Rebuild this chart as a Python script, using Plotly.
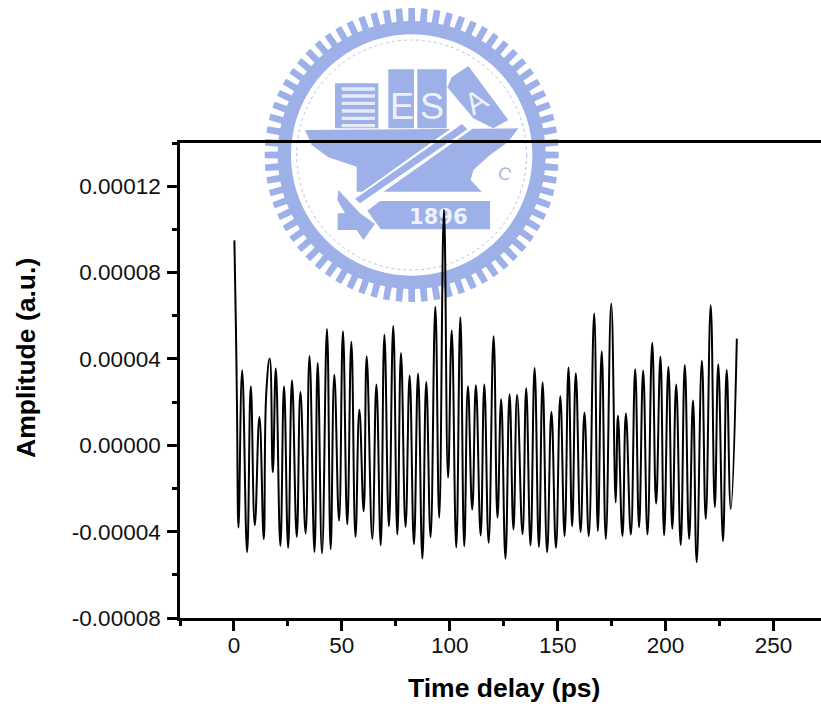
import math
import numpy as np
import plotly.graph_objects as go

# ---- data ----
delay_ps = [0.2,0.9,1.4,2.1,3.8,6.1,7.8,9.65,11.8,13.8,15.0,16.6,18.0,19.4,21.5,23.2,25.1,26.9,29.1,30.8,33.2,35.0,37.3,38.8,40.8,43.1,44.8,46.5,48.7,50.5,52.5,54.4,56.3,58.1,60.1,61.5,64.1,66.0,68.0,69.7,71.8,73.8,75.7,77.4,79.5,81.4,83.4,85.3,87.3,89.1,91.1,93.3,95.1,97.3,99.2,100.9,103.0,104.9,106.7,108.4,110.4,112.1,114.3,116.0,118.0,120.3,122.1,123.8,125.8,127.7,129.5,131.2,133.7,135.4,137.4,139.3,141.3,143.0,145.1,147.1,149.2,151.2,153.2,155.0,156.7,158.4,160.6,162.4,164.4,166.9,168.6,170.4,172.3,174.8,176.9,177.9,180.0,181.6,183.9,185.9,187.7,189.6,191.6,193.8,195.6,197.6,199.3,201.3,203.1,204.9,207.0,208.9,210.9,212.7,214.4,216.8,218.6,220.9,222.8,224.4,226.6,228.3,230.2,233.0]
amplitude_e5 = [9.49,5.5,1.8,-3.81,3.47,-4.95,2.73,-3.70,1.31,-4.34,2.47,4.02,-1.25,3.56,-4.66,2.73,-4.75,3.01,-4.24,2.47,-4.09,4.13,-4.94,3.81,-5.01,5.38,-4.81,3.27,-3.50,5.28,-3.66,4.80,-4.24,1.65,-3.06,4.12,-4.34,2.82,-4.63,5.12,-3.75,5.52,-4.13,4.27,-3.78,3.23,-4.58,3.32,-5.25,2.93,-4.26,6.42,-3.36,10.91,-1.50,5.32,-4.74,5.93,-4.68,2.73,-2.98,2.78,-4.18,2.81,-4.52,5.05,-3.36,2.13,-5.25,2.36,-3.90,2.33,-4.12,2.64,-4.64,3.58,-4.71,2.92,-4.95,1.54,-4.75,2.27,-4.21,3.60,-3.75,3.33,-4.01,1.51,-4.21,6.10,-3.97,4.35,-4.34,6.57,-2.65,1.37,-4.20,1.47,-4.13,3.52,-3.80,3.46,-4.13,4.75,-2.70,4.11,-4.17,3.64,-3.87,2.82,-4.62,3.72,-4.34,2.07,-5.42,3.92,-3.41,6.48,-2.86,3.75,-4.44,3.49,-2.95,4.94]
x_major = [0, 50, 100, 150, 200, 250]
x_labels = ["0", "50", "100", "150", "200", "250"]
x_minor = [-25, 25, 75, 125, 175, 225]
y_major = [-0.00008, -0.00004, 0.0, 0.00004, 0.00008, 0.00012]
y_labels = ["-0.00008", "-0.00004", "0.00000", "0.00004", "0.00008", "0.00012"]
y_minor = [-0.00006, -0.00002, 0.00002, 0.00006, 0.0001, 0.00014]

W, H = 821, 706
L, R, T, B = 180, 821, 143, 618
PW, PH = R - L, B - T
FONT = "Liberation Sans, Arial, sans-serif"
SEAL = "#9DB0E8"


def px(x, y):
    return (x - L) / PW, (B - y) / PH


def z(zx, zy):
    # seal artwork is laid out on a 3x grid anchored at (260, 0)
    return px(260 + zx / 3, zy / 3)


def poly(points, fill, line=None, width=0):
    d = "M" + " L".join("%.5f,%.5f" % z(a, b) for a, b in points) + " Z"
    return dict(type="path", xref="paper", yref="paper", path=d, fillcolor=fill,
                line=dict(color=line or fill, width=width), layer="below")


def circle(r):
    return [(cx + r * math.cos(i * math.pi / 60), cy + r * math.sin(i * math.pi / 60)) for i in range(120)]


shapes = []
cx, cy = 455, 465
# toothed ring
teeth = 72
for i in range(teeth):
    a = 2 * math.pi * i / teeth
    h = 0.026
    pts = [(cx + r * math.cos(a + s), cy + r * math.sin(a + s))
           for r, s in ((395, -h), (441, -h * 0.85), (441, h * 0.85), (395, h))]
    shapes.append(poly(pts, SEAL))
shapes.append(poly(circle(402), SEAL))
shapes.append(poly(circle(362), "white"))
d = "M" + " L".join("%.5f,%.5f" % z(a, b) for a, b in circle(345)) + " Z"
shapes.append(dict(type="path", xref="paper", yref="paper", path=d, fillcolor="rgba(0,0,0,0)",
                   line=dict(color="#B4C2EC", width=1, dash="dot"), layer="below"))
# anvil
shapes.append(poly([(135, 390), (775, 385), (745, 425), (690, 465), (640, 510), (632, 540), (665, 575),
                    (290, 575), (290, 500), (205, 472), (155, 435)], SEAL))
# books
shapes.append(poly([(225, 250), (355, 250), (355, 385), (225, 385)], SEAL))
for yy in (262, 283, 305, 328, 350, 372):
    shapes.append(poly([(245, yy), (345, yy), (345, yy + 10), (245, yy + 10)], "#E6EBFA"))
shapes.append(poly([(385, 208), (462, 208), (462, 385), (385, 385)], SEAL))
shapes.append(poly([(472, 208), (560, 208), (560, 385), (472, 385)], SEAL))
shapes.append(poly([(575, 232), (625, 198), (745, 360), (700, 385), (640, 355), (562, 262)], SEAL))
# handle of the hammer
shapes.append(poly([(612, 358), (640, 385), (305, 622), (272, 600)], "white"))
shapes.append(poly([(606, 372), (622, 388), (300, 610), (285, 597)], SEAL))
# hammer head
shapes.append(poly([(235, 570), (300, 640), (345, 672), (310, 720), (290, 690), (233, 690), (233, 640), (255, 640), (232, 600)], SEAL))
# plate
shapes.append(poly([(360, 603), (690, 603), (690, 688), (362, 688), (322, 632)], SEAL))
# the plate's lettering is a shape label so that the curve passes over it
x0, y0 = z(430, 688)
x1, y1 = z(640, 603)
shapes.append(dict(type="rect", xref="paper", yref="paper", x0=x0, y0=y0, x1=x1, y1=y1, layer="below",
                   fillcolor="rgba(0,0,0,0)", line=dict(width=0),
                   label=dict(text="<b>1896</b>", textposition="middle center",
                              font=dict(family="DejaVu Sans", size=21, color="#EEF1FB"))))

annotations = []
for txt, zx, zy, size, ang, fam in [("E", 425, 318, 36, 0, FONT), ("S", 516, 318, 36, 0, FONT),
                                    ("A", 648, 305, 30, -33, FONT)]:
    ax, ay = z(zx, zy)
    annotations.append(dict(text=txt, x=ax, y=ay, xref="paper", yref="paper",
                            showarrow=False, xanchor="center", yanchor="middle", textangle=ang,
                            font=dict(family=fam, size=size, color="#EEF1FB")))
ax, ay = z(735, 480)
annotations.append(dict(text="C", x=ax, y=ay, xref="paper", yref="paper", showarrow=False, textangle=20,
                        font=dict(family=FONT, size=18, color="#A9B6DA")))

# axis titles placed off-centre as in the reference
for txt, pxx, pyy, ang, size in [("<b>Time delay (ps)</b>", 504, 688, 0, 26.5),
                                 ("<b>Amplitude (a.u.)</b>", 26, 358, -90, 26.5)]:
    ax, ay = px(pxx, pyy)
    annotations.append(dict(text=txt, x=ax, y=ay, xref="paper", yref="paper", showarrow=False,
                            xanchor="center", yanchor="middle", textangle=ang,
                            font=dict(family=FONT, size=size, color="black")))

fig = go.Figure(go.Scatter(
    x=delay_ps,
    y=np.array(amplitude_e5) * 1e-5,
    mode="lines",
    line=dict(color="black", width=2.0, shape="spline", smoothing=1.3),
    hoverinfo="skip",
))

fig.update_xaxes(
    range=[-25, 272], showgrid=False, zeroline=False,
    showline=True, linecolor="black", linewidth=2.6, mirror=True,
    tickmode="array", tickvals=x_major, ticktext=x_labels,
    ticks="outside", ticklen=10, tickwidth=2.6, tickcolor="black",
    ticklabelstandoff=-5,
    tickfont=dict(family=FONT, size=22.5, color="#111111"),
    minor=dict(tickmode="array", tickvals=x_minor, ticks="outside", ticklen=5, tickwidth=2.6, tickcolor="black"),
)
fig.update_yaxes(
    range=[-0.00008, 0.00014], showgrid=False, zeroline=False,
    showline=True, linecolor="black", linewidth=2.6,
    tickmode="array", tickvals=y_major, ticktext=y_labels,
    ticks="outside", ticklen=10, tickwidth=2.6, tickcolor="black",
    ticklabelstandoff=2,
    tickfont=dict(family=FONT, size=22.5, color="#111111"),
    minor=dict(tickmode="array", tickvals=y_minor, ticks="outside", ticklen=5, tickwidth=2.6, tickcolor="black"),
)
fig.update_layout(
    width=W, height=H, autosize=False,
    margin=dict(l=L, r=W - R, t=T, b=H - B, pad=0),
    paper_bgcolor="white", plot_bgcolor="rgba(0,0,0,0)",
    showlegend=False, shapes=shapes, annotations=annotations,
)
fig.write_html("out.html", config={"displayModeBar": False},
               post_script="document.body.style.margin='0';document.documentElement.style.overflow='hidden';")
